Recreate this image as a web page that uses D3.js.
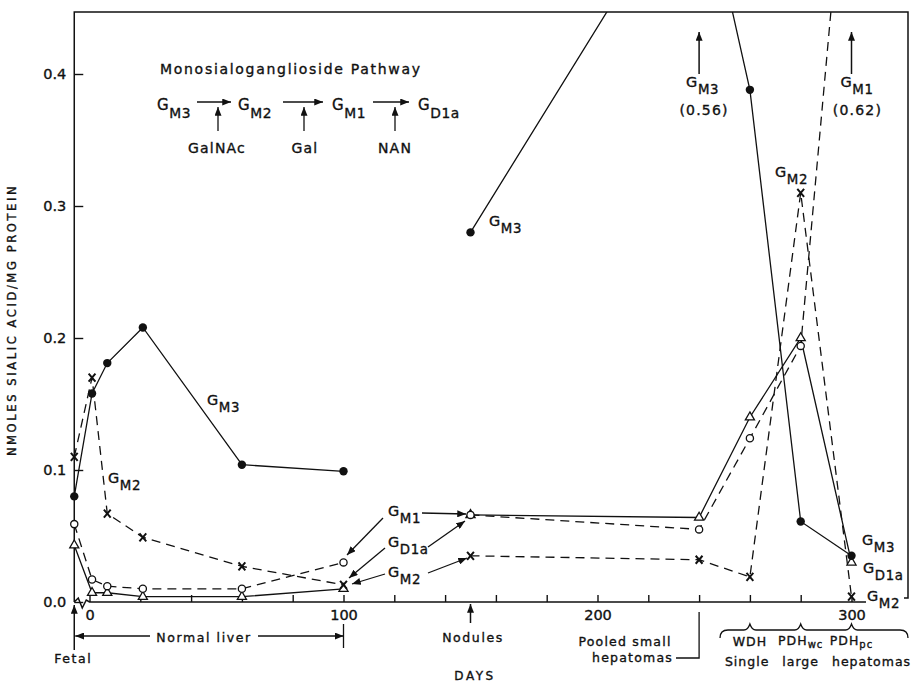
<!DOCTYPE html>
<html>
<head>
<meta charset="utf-8">
<script src="https://cdn.jsdelivr.net/npm/d3@7"></script>
<style>
  html, body { margin: 0; padding: 0; background: #fff; }
  svg { display: block; }
  text { font-family: "DejaVu Sans", sans-serif; fill: #111; stroke: #111; stroke-width: 0.35px; }
</style>
</head>
<body>
<svg id="chart" width="919" height="683"></svg>
<script>
// Sampling days (fetal tissue is placed just left of day 0, on the broken axis)
const days = [-6, 1, 7, 21, 60, 100, 150, 240, 260, 280, 300];
// Normal liver runs to day 100; nodules and hepatomas form a second, separate run
const breakAfter = 100;

// nmoles sialic acid / mg protein
const gm3  = [0.080, 0.158, 0.181, 0.208, 0.104, 0.099, 0.280, 0.560, 0.388, 0.061, 0.035];
const gm2  = [0.110, 0.170, 0.067, 0.049, 0.027, 0.013, 0.035, 0.032, 0.019, 0.310, 0.004];
const gm1  = [0.059, 0.017, 0.012, 0.010, 0.010, 0.030, 0.066, 0.055, 0.124, 0.194, 0.620];
const gd1a = [0.043, 0.007, 0.007, 0.004, 0.004, 0.010, 0.066, 0.064, 0.140, 0.200, 0.030];

const yTicks = [0, 0.1, 0.2, 0.3, 0.4];
const xTicks = d3.range(0, 301, 20);
const xLabels = [0, 100, 200, 300];
const yTop = 0.447;

const svg = d3.select("#chart");
const x = d3.scaleLinear().domain([0, 300]).range([89.5, 851.5]);
const y = d3.scaleLinear().domain([0, 0.4]).range([602, 74]);
const plotLeft = x(days[0]), plotRight = 908, plotTop = y(yTop), plotBase = y(0);

// arrowhead marker
const defs = svg.append("defs");
defs.append("marker").attr("id", "ah").attr("viewBox", "0 0 10 8")
  .attr("refX", 10).attr("refY", 4).attr("markerWidth", 9).attr("markerHeight", 7)
  .attr("markerUnits", "userSpaceOnUse").attr("orient", "auto-start-reverse")
  .append("path").attr("d", "M0,0 L10,4 L0,8 Z").attr("fill", "#111");
defs.append("clipPath").attr("id", "plot")
  .append("rect").attr("x", plotLeft - 6).attr("y", plotTop).attr("width", plotRight - plotLeft + 6).attr("height", plotBase - plotTop + 6);

// frame: left axis, top edge, right edge
svg.append("path").attr("d", `M${plotLeft},${plotBase} L${plotLeft},${plotTop} L${plotRight},${plotTop} L${plotRight},${plotBase - 4} L${plotRight - 4},${plotBase - 4}`)
  .attr("fill", "none").attr("stroke", "#111").attr("stroke-width", 1.5);
// baseline with axis break next to the fetal position
svg.append("path").attr("d", `M${plotLeft},${plotBase} L${plotLeft + 4},${plotBase - 4} L${plotLeft + 8},${plotBase + 6} L${plotLeft + 12},${plotBase - 2} L${x(0)},${plotBase} L866,${plotBase}`)
  .attr("fill", "none").attr("stroke", "#111").attr("stroke-width", 1.5);

// y axis ticks and labels
const yAxis = svg.append("g").attr("transform", `translate(${plotLeft},0)`)
  .call(d3.axisLeft(y).tickValues(yTicks).tickSize(-9).tickPadding(8).tickFormat(d3.format(".1f")));
yAxis.select(".domain").remove();
yAxis.selectAll("line").attr("stroke", "#111").attr("stroke-width", 1.4);
yAxis.selectAll("text").attr("font-size", 14.5).attr("font-family", "DejaVu Sans").attr("fill", "#111");

// x axis ticks and labels
const xAxis = svg.append("g").attr("transform", `translate(0,${plotBase})`)
  .call(d3.axisBottom(x).tickValues(xTicks).tickSize(-7).tickPadding(8)
    .tickFormat(d => xLabels.includes(d) ? d : ""));
xAxis.select(".domain").remove();
xAxis.selectAll("line").attr("stroke", "#111").attr("stroke-width", 1.4);
xAxis.selectAll("text").attr("font-size", 14.5).attr("font-family", "DejaVu Sans").attr("fill", "#111");

// axis titles
svg.append("text").attr("transform", "translate(16,320) rotate(-90)").attr("text-anchor", "middle")
  .attr("font-size", 11.5).attr("letter-spacing", 2.6).text("NMOLES SIALIC ACID/MG PROTEIN");
svg.append("text").attr("x", 475).attr("y", 680).attr("text-anchor", "middle")
  .attr("font-size", 12).attr("letter-spacing", 2.5).text("DAYS");

// series
const series = [
  { name: "GM3",  values: gm3,  dash: null,  mark: "dot" },
  { name: "GM2",  values: gm2,  dash: "9,6", mark: "cross" },
  { name: "GM1",  values: gm1,  dash: "9,6", mark: "ring" },
  { name: "GD1a", values: gd1a, dash: null,  mark: "tri" }
];
const plot = svg.append("g").attr("clip-path", "url(#plot)");
const line = d3.line().x(d => x(d.day)).y(d => y(d.v));
series.forEach(s => {
  const pts = days.map((d, i) => ({ day: d, v: s.values[i] }));
  const runs = [pts.filter(p => p.day <= breakAfter), pts.filter(p => p.day > breakAfter)];
  runs.forEach(r => {
    plot.append("path").attr("d", line(r)).attr("fill", "none").attr("stroke", "#111")
      .attr("stroke-width", 1.3).attr("stroke-dasharray", s.dash);
  });
});
series.slice().reverse().forEach(s => {
  days.forEach((d, i) => {
    const v = s.values[i];
    if (v > yTop) return;
    const cx = x(d), cy = y(v);
    if (s.mark === "dot") {
      plot.append("circle").attr("cx", cx).attr("cy", cy).attr("r", 4.2).attr("fill", "#111");
    } else if (s.mark === "ring") {
      plot.append("circle").attr("cx", cx).attr("cy", cy).attr("r", 3.6)
        .attr("fill", "#fff").attr("stroke", "#111").attr("stroke-width", 1.3);
    } else if (s.mark === "tri") {
      plot.append("path").attr("transform", `translate(${cx},${cy})`)
        .attr("d", d3.symbol(d3.symbolTriangle, 36)())
        .attr("fill", "#fff").attr("stroke", "#111").attr("stroke-width", 1.3);
    } else {
      plot.append("path").attr("d", `M${cx - 3.4},${cy - 4} L${cx + 3.4},${cy + 4} M${cx + 3.4},${cy - 4} L${cx - 3.4},${cy + 4}`)
        .attr("stroke", "#111").attr("stroke-width", 2).attr("fill", "none");
    }
  });
});

// G label with subscript
function gLabel(px, py, sub, size = 14.5) {
  const t = svg.append("text").attr("x", px).attr("y", py).attr("font-size", size).attr("letter-spacing", 0.6);
  t.append("tspan").text("G");
  t.append("tspan").attr("dy", size * 0.5).attr("font-size", size * 0.92).text(sub);
  return t;
}
function arrow(x1, y1, x2, y2, w = 1.3) {
  svg.append("line").attr("x1", x1).attr("y1", y1).attr("x2", x2).attr("y2", y2)
    .attr("stroke", "#111").attr("stroke-width", w).attr("marker-end", "url(#ah)");
}

// pathway inset
svg.append("text").attr("x", 160).attr("y", 74).attr("font-size", 14).attr("letter-spacing", 1.7)
  .text("Monosialoganglioside  Pathway");
gLabel(157, 110, "M3", 15);
gLabel(238, 110, "M2", 15);
gLabel(332, 110, "M1", 15);
gLabel(418, 110, "D1a", 15);
arrow(197, 102, 231, 102); arrow(283, 102, 323, 102); arrow(373, 102, 409, 102);
arrow(218, 131, 218, 107); arrow(304, 131, 304, 107); arrow(395, 131, 395, 107);
[["GalNAc", 217], ["Gal", 305], ["NAN", 395]].forEach(([t, cx]) =>
  svg.append("text").attr("x", cx).attr("y", 153).attr("text-anchor", "middle").attr("font-size", 14).attr("letter-spacing", 1.2).text(t));

// series labels
gLabel(207, 405, "M3");
gLabel(108, 483, "M2");
gLabel(489, 226, "M3");
gLabel(388, 516, "M1");
gLabel(388, 547, "D1a");
gLabel(388, 577, "M2");
arrow(422, 513, 466, 514); arrow(383, 518, 347, 555);
arrow(428, 547, 465, 521); arrow(385, 548, 349, 578);
arrow(428, 573, 467, 558); arrow(385, 574, 352, 584);
gLabel(775, 177, "M2");
gLabel(862, 545, "M3");
gLabel(863, 573, "D1a");
gLabel(867, 601, "M2");

// off-scale values at day 240 (GM3) and day 300 (GM1)
arrow(x(240), 74, x(240), 32, 1.5);
gLabel(x(240) - 13, 87, "M3");
svg.append("text").attr("x", x(240) + 5).attr("y", 115).attr("text-anchor", "middle").attr("font-size", 14).attr("letter-spacing", 1.2)
  .text(`(${d3.format(".2f")(gm3[7])})`);
arrow(x(300), 74, x(300), 32, 1.5);
gLabel(x(300) - 11, 87, "M1");
svg.append("text").attr("x", x(300) + 6).attr("y", 115).attr("text-anchor", "middle").attr("font-size", 14).attr("letter-spacing", 1.2)
  .text(`(${d3.format(".2f")(gm1[10])})`);

// sample annotations below the axis
arrow(plotLeft, 650, plotLeft, 605, 1.5);
svg.append("text").attr("x", plotLeft - 1).attr("y", 663).attr("text-anchor", "middle").attr("font-size", 12.5).attr("letter-spacing", 1.6).text("Fetal");
arrow(150, 636, plotLeft + 1, 636); arrow(258, 636, x(100), 636);
svg.append("line").attr("x1", x(100)).attr("y1", 624).attr("x2", x(100)).attr("y2", 648).attr("stroke", "#111").attr("stroke-width", 1.3);
svg.append("text").attr("x", 204).attr("y", 642).attr("text-anchor", "middle").attr("font-size", 12.5).attr("letter-spacing", 1.6).text("Normal liver");
arrow(x(150), 623, x(150), 604, 1.5);
svg.append("text").attr("x", 473).attr("y", 642).attr("text-anchor", "middle").attr("font-size", 12.5).attr("letter-spacing", 1.6).text("Nodules");
svg.append("text").attr("x", 625).attr("y", 646).attr("text-anchor", "middle").attr("font-size", 12.5).attr("letter-spacing", 1.2).text("Pooled small");
svg.append("text").attr("x", 673).attr("y", 662).attr("text-anchor", "end").attr("font-size", 12.5).attr("letter-spacing", 1.2).text("hepatomas");
svg.append("path").attr("d", `M676,658 L${x(240)},658 L${x(240)},612`).attr("fill", "none").attr("stroke", "#111").attr("stroke-width", 1.3);
// brace over the single large hepatomas
const bx = [x(260), x(280), x(300)];
svg.append("path").attr("d",
  `M720,638 Q720,630 728,630 L${bx[0] - 6},630 Q${bx[0] - 2},630 ${bx[0]},624 Q${bx[0] + 2},630 ${bx[0] + 6},630 ` +
  `L${bx[1] - 6},630 Q${bx[1] - 2},630 ${bx[1]},624 Q${bx[1] + 2},630 ${bx[1] + 6},630 ` +
  `L${bx[2] - 6},630 Q${bx[2] - 2},630 ${bx[2]},624 Q${bx[2] + 2},630 ${bx[2] + 6},630 L900,630 Q908,630 908,638`)
  .attr("fill", "none").attr("stroke", "#111").attr("stroke-width", 1.3);
svg.append("text").attr("x", bx[0]).attr("y", 646).attr("text-anchor", "middle").attr("font-size", 12.5).attr("letter-spacing", 1).text("WDH");
[["wc", bx[1]], ["pc", bx[2]]].forEach(([sub, cx]) => {
  const t = svg.append("text").attr("x", cx).attr("y", 645).attr("text-anchor", "middle").attr("font-size", 12.5).attr("letter-spacing", 1);
  t.append("tspan").text("PDH");
  t.append("tspan").attr("dy", 3).attr("font-size", 10).text(sub);
});
svg.append("text").attr("x", 818).attr("y", 666).attr("text-anchor", "middle").attr("font-size", 12.5)
  .attr("letter-spacing", 1).attr("word-spacing", 8).text("Single large hepatomas");
</script>
</body>
</html>
